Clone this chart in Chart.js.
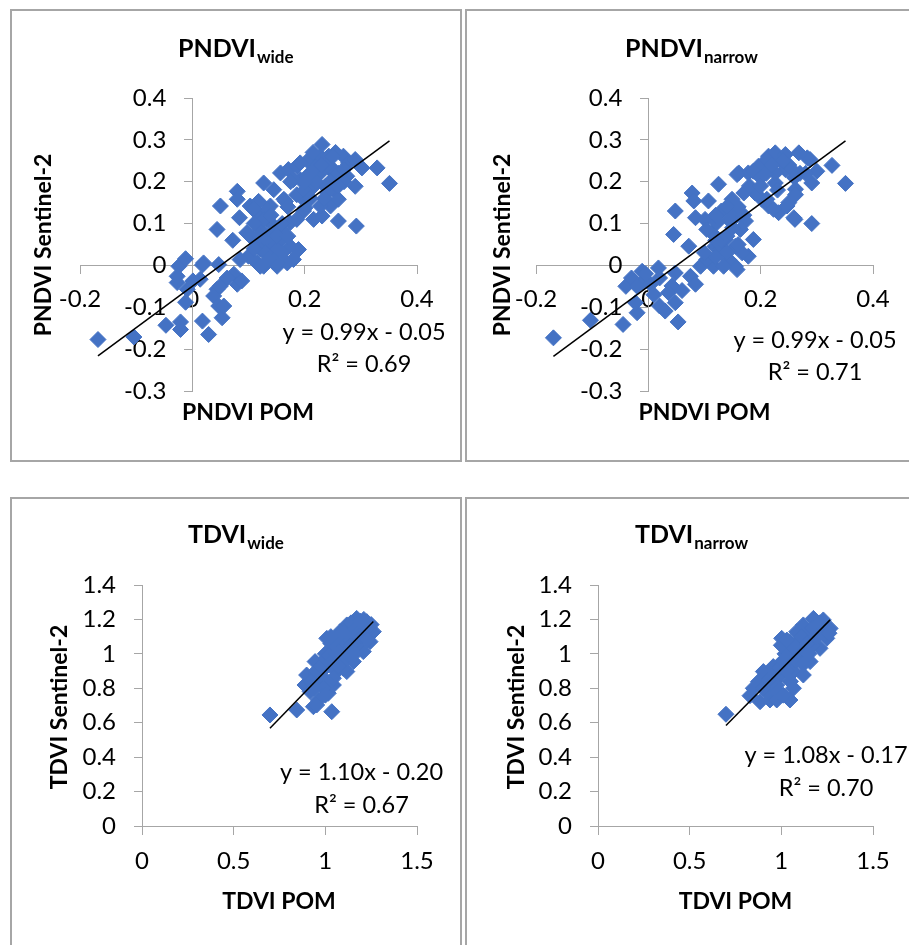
<!DOCTYPE html>
<html><head><meta charset="utf-8">
<script src="https://cdn.jsdelivr.net/npm/chart.js@4.4.0/dist/chart.umd.min.js"></script>
<style>
html,body{margin:0;padding:0;background:#fff}
body{width:909px;height:945px;overflow:hidden;position:relative;font-family:Lato,sans-serif}
.frame{position:absolute;border:2px solid #a6a6a6;box-sizing:border-box;pointer-events:none}
canvas{position:absolute}
</style></head><body>
<canvas id="c1" width="452" height="453" style="left:10px;top:9px"></canvas>
<canvas id="c2" width="442" height="453" style="left:467px;top:9px"></canvas>
<canvas id="c3" width="452" height="448" style="left:10px;top:497px"></canvas>
<canvas id="c4" width="442" height="448" style="left:467px;top:497px"></canvas>
<div class="frame" style="left:10px;top:9px;width:452px;height:453px"></div>
<div class="frame" style="left:465px;top:9px;width:460px;height:453px"></div>
<div class="frame" style="left:10px;top:497px;width:452px;height:460px"></div>
<div class="frame" style="left:465px;top:497px;width:460px;height:460px"></div>
<script>
// ---------- DATA ----------
const pndviWideX = [-0.168,-0.104,-0.047,-0.021,-0.021,-0.012,-0.027,0.001,-0.024,-0.012,0.018,0.018,0.029,0.047,0.044,0.038,0.050,0.047,0.053,0.074,0.080,0.088,0.044,0.072,0.050,0.080,0.080,0.084,0.127,0.103,0.115,0.097,0.109,0.100,0.115,0.127,0.133,0.145,0.139,0.127,0.145,0.157,0.151,0.169,0.180,0.174,0.189,0.174,0.163,0.157,0.171,0.186,0.192,0.198,0.201,0.216,0.231,0.213,0.216,0.231,0.228,0.243,0.246,0.228,0.237,0.246,0.251,0.260,0.260,0.269,0.278,0.290,0.302,0.290,0.292,0.329,0.351,0.205,0.192,0.180,0.118,0.133,0.166,0.186,0.240,0.109,0.121,0.157,0.151,0.121,0.151,0.121,0.085,0.127,0.145,0.204,0.251,0.251,0.275,0.228,0.198,0.186,0.135,0.140,0.160,0.110,0.200,0.220,0.240,0.260,0.170,0.210,0.270,0.255,0.220,-0.027,-0.009,0.014,0.062,0.020,0.056,
  0.130,0.140,0.160,0.120,0.110,0.150,0.170,0.135,0.230,0.210,0.245,0.260,0.270,0.235,0.250,0.200,0.175,0.215];
const pndviWideY = [-0.177,-0.171,-0.143,-0.135,-0.153,-0.088,-0.041,-0.037,-0.002,0.016,0.001,-0.133,-0.165,0.002,-0.057,-0.073,-0.049,-0.097,-0.125,-0.021,-0.045,-0.037,0.086,0.060,0.142,0.177,0.158,0.114,0.197,0.142,0.126,0.078,0.062,0.022,0.006,-0.002,0.110,0.094,0.142,0.046,0.046,0.062,-0.002,0.006,0.014,0.046,0.038,0.102,0.158,0.221,0.229,0.237,0.205,0.158,0.138,0.110,0.118,0.245,0.189,0.289,0.261,0.261,0.229,0.221,0.189,0.142,0.181,0.106,0.158,0.261,0.245,0.253,0.233,0.189,0.094,0.233,0.196,0.250,0.245,0.205,0.153,0.134,0.153,0.169,0.174,0.134,0.086,0.086,0.038,0.038,0.006,-0.002,0.014,0.110,0.181,0.213,0.229,0.205,0.213,0.142,0.130,0.110,0.070,0.020,0.030,0.100,0.180,0.200,0.240,0.220,0.140,0.160,0.200,0.270,0.235,-0.026,-0.057,-0.033,-0.030,0.006,-0.097,
  0.030,0.120,0.100,0.070,0.040,0.070,0.070,0.015,0.240,0.220,0.200,0.190,0.230,0.160,0.260,0.200,0.200,0.270];

const pndviNarrowX = [-0.169,-0.103,-0.045,-0.020,-0.023,-0.011,-0.026,-0.011,0.004,0.018,0.020,0.030,0.048,0.042,0.036,0.048,0.053,0.075,0.084,0.093,0.072,0.045,0.048,0.078,0.081,0.084,0.125,0.107,0.101,0.113,0.119,0.116,0.155,0.178,0.187,0.173,0.161,0.178,0.196,0.214,0.226,0.244,0.268,0.283,0.300,0.291,0.327,0.351,0.291,0.261,0.262,0.232,0.214,0.202,0.190,0.226,0.244,0.226,0.149,0.143,0.137,0.155,0.143,0.167,0.122,0.152,0.170,0.158,0.187,0.211,0.288,0.262,0.247,0.223,0.259,0.211,0.164,0.140,0.104,0.134,0.158,0.128,0.104,0.130,0.150,0.180,0.200,0.250,0.235,0.270,0.160,0.120,-0.040,-0.030,0.010,-0.005,
  0.130,0.140,0.120,0.150,0.160,0.170,0.140,0.120,0.240,0.255,0.210,0.230,0.260,0.200,0.220,0.250,0.280,0.100,0.020,-0.020,0.060];
const pndviNarrowY = [-0.173,-0.131,-0.141,-0.113,-0.089,-0.014,-0.037,-0.041,-0.045,-0.006,-0.097,-0.109,-0.018,-0.049,-0.065,-0.089,-0.135,-0.026,-0.045,-0.002,0.046,0.074,0.130,0.173,0.154,0.114,0.194,0.154,0.110,0.078,0.046,-0.002,-0.002,0.022,0.062,0.106,0.221,0.221,0.237,0.261,0.269,0.265,0.269,0.257,0.225,0.197,0.239,0.196,0.100,0.110,0.182,0.126,0.142,0.158,0.173,0.197,0.229,0.221,0.158,0.110,0.062,0.046,0.014,0.030,0.102,0.126,0.173,0.217,0.225,0.253,0.253,0.169,0.142,0.134,0.114,0.158,0.086,0.070,0.014,-0.002,-0.010,0.038,0.086,0.130,0.090,0.190,0.210,0.240,0.250,0.220,0.050,0.020,-0.050,-0.030,-0.070,-0.020,
  0.060,0.030,0.120,0.110,0.140,0.120,0.140,0.060,0.250,0.230,0.220,0.180,0.210,0.190,0.240,0.150,0.220,0.030,-0.030,-0.050,-0.060];

const tdviWideX = [0.698,0.844,0.935,1.035,0.962,1.016,0.889,0.898,0.944,0.980,1.044,1.062,1.026,1.117,1.153,1.008,1.044,1.098,1.135,1.189,1.207,1.244,1.262,1.226,1.171,1.117,1.080,1.189,1.135,1.062,1.080,0.971,0.917,0.953,1.098,1.044,1.000,1.050,1.100,1.150,1.200,1.250,1.170,1.120,1.000,1.030,1.140,1.210,1.240,1.090,0.950,1.000,
  0.920,0.950,0.980,1.000,1.020,1.040,1.060,1.080,1.100,1.120,1.140,1.160,1.180,1.200,1.220,1.250,1.230,1.190,1.100,1.060,1.030,1.130,1.160,1.070,0.990,0.940,1.000];
const tdviWideY = [0.645,0.674,0.693,0.664,0.732,0.771,0.819,0.877,0.955,0.838,0.819,0.897,0.955,0.897,0.955,1.090,1.032,1.013,1.071,1.110,1.013,1.071,1.129,1.187,1.206,1.168,1.129,1.168,1.129,1.071,0.955,0.897,0.781,0.703,0.916,0.858,0.920,0.950,1.050,1.100,1.150,1.120,1.050,0.990,1.000,1.060,1.180,1.200,1.150,0.940,0.880,0.850,
  0.840,0.900,0.930,0.970,0.990,0.960,1.000,1.040,1.080,1.100,1.050,1.140,1.120,1.100,1.140,1.170,1.080,1.190,1.120,1.090,1.100,1.000,1.000,0.930,0.800,0.800,0.760];

const tdviNarrowX = [0.698,0.829,0.884,0.938,1.047,0.975,0.902,0.956,1.029,0.975,1.066,1.002,1.029,1.102,1.157,1.211,1.248,1.266,1.229,1.175,1.120,1.084,1.139,1.193,1.047,1.066,1.120,0.938,0.875,0.847,1.000,1.050,1.100,1.150,1.200,1.170,1.230,1.000,1.080,0.920,1.020,1.130,0.960,
  0.900,0.930,0.960,0.990,1.010,1.040,1.060,1.090,1.110,1.140,1.170,1.190,1.210,1.240,1.260,1.080,1.030,0.980,1.010,1.050,1.120,1.150,1.000,1.030];
const tdviNarrowY = [0.649,0.757,0.722,0.732,0.732,0.732,0.897,0.926,0.935,0.819,0.800,1.090,1.032,0.994,0.955,1.032,1.090,1.148,1.197,1.206,1.168,1.129,1.090,1.129,1.071,0.897,0.877,0.819,0.838,0.800,0.950,0.980,1.050,1.120,1.160,1.050,1.150,0.880,1.000,0.780,1.000,1.020,0.860,
  0.800,0.850,0.900,0.920,0.960,1.000,1.040,1.070,1.100,1.060,1.150,1.100,1.180,1.120,1.120,0.960,0.900,0.780,0.760,0.840,0.940,1.000,1.050,1.080];

// regression coefficients shown on the charts [slope, intercept], and R²
const pndviWideFit = [0.99, -0.05];   const pndviWideR2 = 0.69;
const pndviNarrowFit = [0.99, -0.05]; const pndviNarrowR2 = 0.71;
const tdviWideFit = [1.10, -0.20];    const tdviWideR2 = 0.67;
const tdviNarrowFit = [1.08, -0.17];  const tdviNarrowR2 = 0.70;

// axis ranges / tick steps [min, max, step]
const pndviXTicks = [-0.2, 0.4, 0.2];
const pndviYTicks = [-0.3, 0.4, 0.1];
const tdviXTicks = [0, 1.5, 0.5];
const tdviYTicks = [0, 1.4, 0.2];

// ---------- CHARTS ----------
const BLUE = '#4472C4';
const AXIS = '#a6a6a6';
const FONT = 'Lato';
const TICK_FONT = 24;

function fmt(v){ const r = Math.round(v*10)/10; return r === 0 ? '0' : String(r); }
function eqText(fit){
  const s = fit[0].toFixed(2), b = fit[1];
  return 'y = ' + s + 'x ' + (b < 0 ? '- ' : '+ ') + Math.abs(b).toFixed(2);
}

const panels = [
  {id:'c1', left:10, top:9, xs:pndviWideX, ys:pndviWideY, fit:pndviWideFit, r2:pndviWideR2,
   xt:pndviXTicks, yt:pndviYTicks, title:'PNDVI', sub:'wide', xTitle:'PNDVI POM', yTitle:'PNDVI Sentinel-2', xPad:11,
   pad:{left:70,right:45,top:89,bottom:71}, tPos:[178,57], xtPos:[248,413], ytPos:[44,245], eqPos:[364,332,364]},
  {id:'c2', left:467, top:9, xs:pndviNarrowX, ys:pndviNarrowY, fit:pndviNarrowFit, r2:pndviNarrowR2,
   xt:pndviXTicks, yt:pndviYTicks, title:'PNDVI', sub:'narrow', xTitle:'PNDVI POM', yTitle:'PNDVI Sentinel-2', xPad:11,
   pad:{left:69,right:36,top:89,bottom:71}, tPos:[625,57], xtPos:[704.5,413], ytPos:[503,245], eqPos:[815,340,372]},
  {id:'c3', left:10, top:497, xs:tdviWideX, ys:tdviWideY, fit:tdviWideFit, r2:tdviWideR2,
   xt:tdviXTicks, yt:tdviYTicks, title:'TDVI', sub:'wide', xTitle:'TDVI POM', yTitle:'TDVI Sentinel-2', xPad:13,
   pad:{left:132,right:45,top:88,bottom:119}, tPos:[188,543], xtPos:[279,902], ytPos:[60,707], eqPos:[361.5,772,805]},
  {id:'c4', left:467, top:497, xs:tdviNarrowX, ys:tdviNarrowY, fit:tdviNarrowFit, r2:tdviNarrowR2,
   xt:tdviXTicks, yt:tdviYTicks, title:'TDVI', sub:'narrow', xTitle:'TDVI POM', yTitle:'TDVI Sentinel-2', xPad:13,
   pad:{left:131,right:36,top:88,bottom:119}, tPos:[635,543], xtPos:[735.5,902], ytPos:[517,707], eqPos:[826,755,788]}
];

const textPlugin = {
  id:'panelText',
  beforeDatasetsDraw(chart, args, opts){
    const ys = chart.scales.y, xs = chart.scales.x;
    const ctx = chart.ctx;
    const ax = xs.getPixelForValue(0);
    ctx.save();
    ctx.fillStyle = '#000';
    ctx.font = TICK_FONT + 'px ' + FONT;
    ctx.textAlign = 'right'; ctx.textBaseline = 'middle';
    ys.ticks.forEach(t => {
      ctx.fillText(fmt(t.value), ax - 26, ys.getPixelForValue(t.value));
    });
    ctx.restore();
  },
  afterDraw(chart, args, opts){
    const p = opts.panel; if(!p) return;
    const ctx = chart.ctx;
    ctx.save();
    ctx.fillStyle = '#000';
    ctx.textAlign = 'left'; ctx.textBaseline = 'alphabetic';
    ctx.font = 'bold 25px ' + FONT;
    const tx = p.tPos[0]-p.left, ty = p.tPos[1]-p.top;
    ctx.fillText(p.title, tx, ty);
    const w = ctx.measureText(p.title).width;
    ctx.font = 'bold 17px ' + FONT;
    ctx.fillText(p.sub, tx + w + 1, ty + 6);
    ctx.font = 'bold 23px ' + FONT;
    ctx.textAlign = 'center'; ctx.textBaseline = 'middle';
    ctx.fillText(p.xTitle, p.xtPos[0]-p.left, p.xtPos[1]-p.top);
    ctx.save();
    ctx.translate(p.ytPos[0]-p.left, p.ytPos[1]-p.top);
    ctx.rotate(-Math.PI/2);
    ctx.fillText(p.yTitle, 0, 0);
    ctx.restore();
    ctx.font = '23.5px ' + FONT;
    ctx.fillText(eqText(p.fit), p.eqPos[0]-p.left, p.eqPos[1]-p.top);
    ctx.fillText('R\u00B2 = ' + p.r2.toFixed(2), p.eqPos[0]-p.left, p.eqPos[2]-p.top);
    ctx.restore();
  }
};

panels.forEach(p => {
  const pts = p.xs.map((x,i) => ({x:x, y:p.ys[i]}));
  const xmin = Math.min(...p.xs), xmax = Math.max(...p.xs);
  const trend = [xmin, xmax].map(x => ({x:x, y:p.fit[0]*x + p.fit[1]}));
  const grid = {display:true, drawOnChartArea:false, drawTicks:true, tickLength:8, color:AXIS, lineWidth:1};
  const border = {display:true, color:AXIS, width:1};
  new Chart(document.getElementById(p.id), {
    type:'scatter',
    data:{datasets:[
      {data:trend, showLine:true, borderColor:'#000', borderWidth:1.5, pointRadius:0, fill:false},
      {data:pts, pointStyle:'rectRot', pointRadius:8, backgroundColor:BLUE, borderColor:BLUE, borderWidth:1}
    ]},
    options:{
      responsive:false, animation:false, devicePixelRatio:1,
      layout:{padding:p.pad},
      plugins:{legend:{display:false}, tooltip:{enabled:false}, title:{display:false}, panelText:{panel:p}},
      scales:{
        x:{type:'linear', position:{y:0}, min:p.xt[0], max:p.xt[1],
           ticks:{stepSize:p.xt[2], color:'#000', font:{family:FONT, size:TICK_FONT}, padding:p.xPad, maxRotation:0, autoSkip:false, callback:fmt},
           grid:grid, border:border},
        y:{type:'linear', position:{x:0}, min:p.yt[0], max:p.yt[1],
           ticks:{stepSize:p.yt[2], display:false, autoSkip:false},
           grid:grid, border:border}
      }
    },
    plugins:[textPlugin]
  });
});
</script>
</body></html>
